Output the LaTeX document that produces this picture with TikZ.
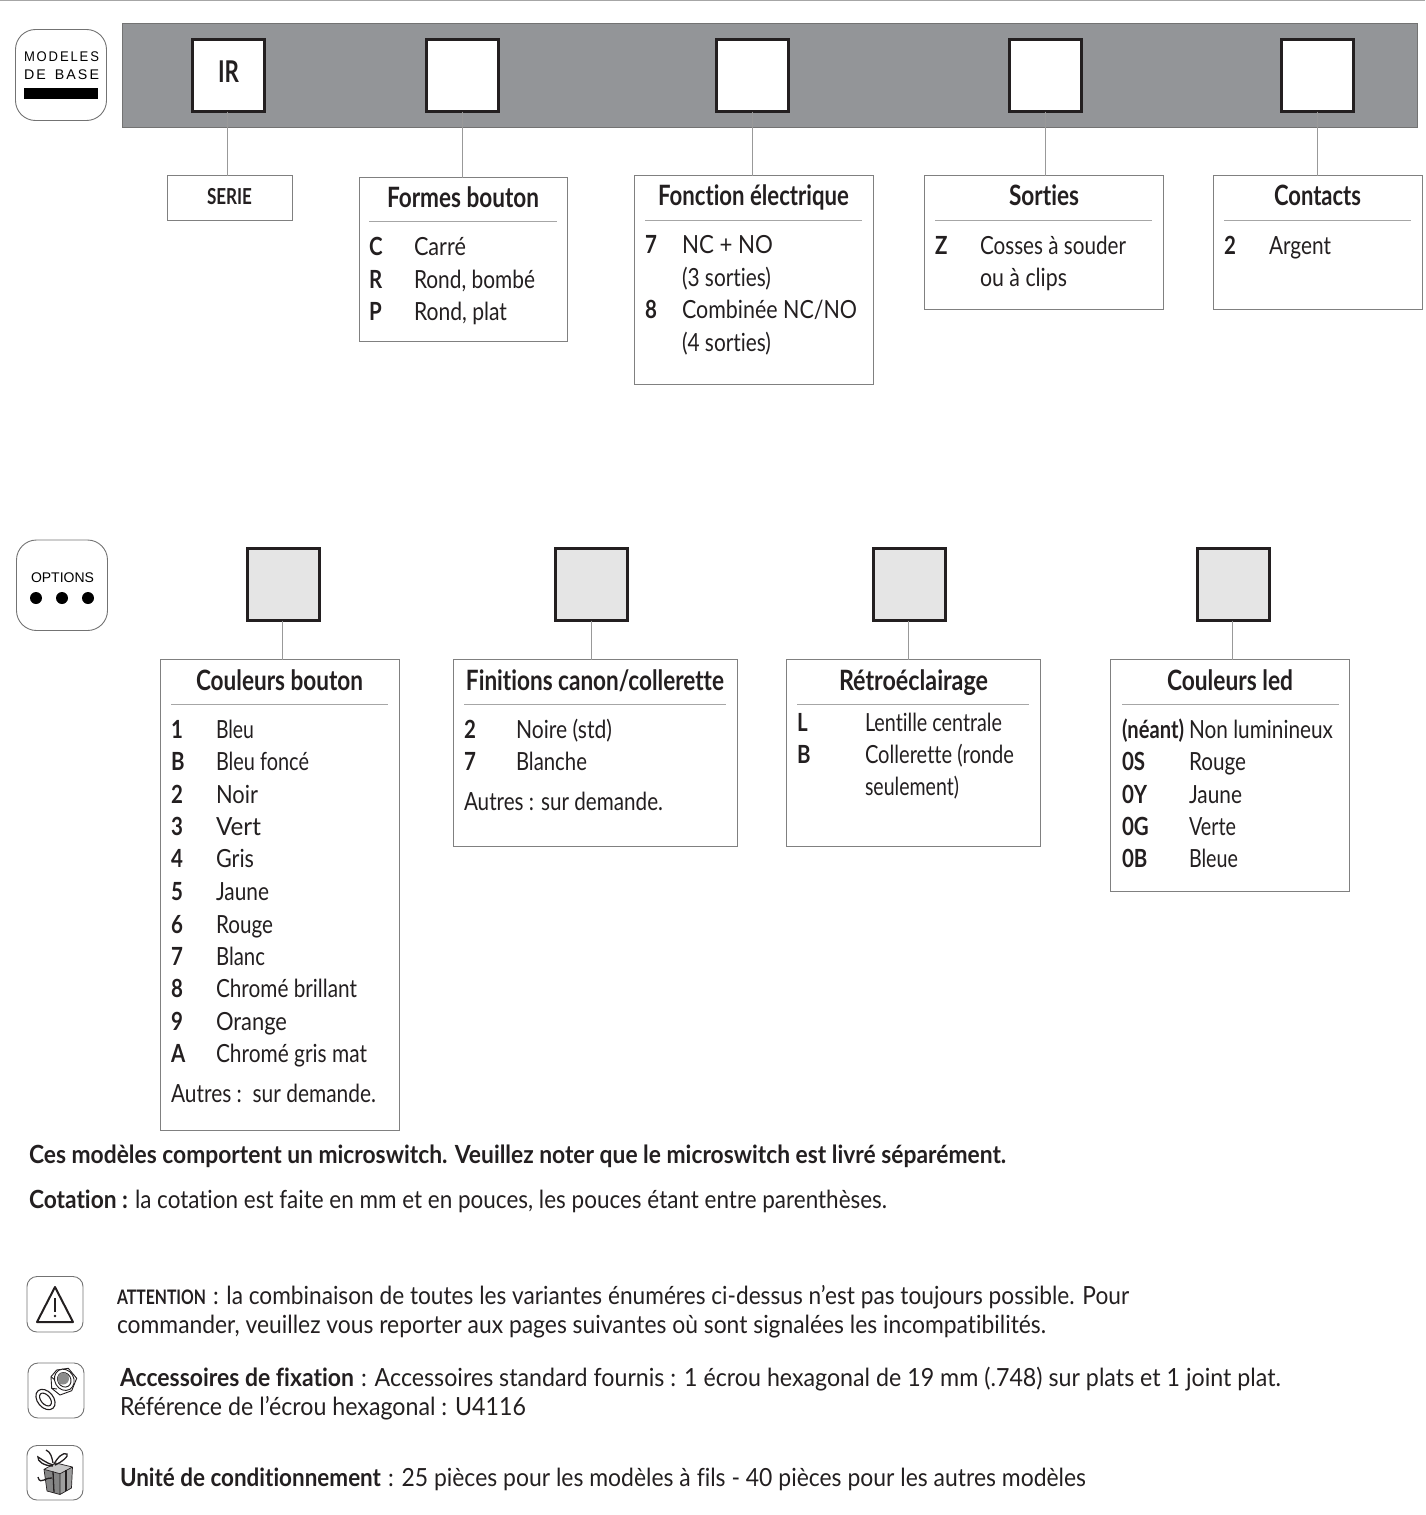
\documentclass[tikz,border=0pt]{standalone}
\usepackage{fontspec}
\setmainfont{Lato}[Ligatures=NoCommon]
\newfontfamily\helv{Liberation Sans}
\definecolor{band}{RGB}{147,149,152}
\definecolor{ink}{RGB}{35,31,32}
\newcounter{tc}
\tikzset{
 txt/.style={inner sep=0pt,outer sep=0pt,text=ink,font=\fontsize{25}{25}\selectfont,anchor=base west},
 ttl/.style={inner sep=0pt,outer sep=0pt,text=ink,font=\fontsize{28}{28}\selectfont\bfseries,anchor=base},
 optbox/.style={draw=black!50,line width=1pt,fill=white,inner sep=0pt,outer sep=0pt,anchor=north west},
 sq/.style={draw=ink,line width=2.6pt,inner sep=0pt,outer sep=0pt,minimum width=72pt,minimum height=72pt,anchor=north west},
 conn/.style={draw=black!40,line width=1pt},
 rul/.style={draw=black!35,line width=0.8pt},
 ico/.style={draw=black!55,line width=0.9pt,rounded corners=#1},
 lab/.style={inner sep=0pt,outer sep=0pt,text=black,font=\helv\fontsize{14}{14}\selectfont,anchor=base west},
 pic/.style={draw=ink,line width=.9pt},
}
\newcommand{\TF}[4]{\stepcounter{tc}\node[txt] (t\thetc) at (#1,#2) {\resizebox{#3pt}{\height}{#4}};}
\newcommand{\TC}[4]{\stepcounter{tc}\node[ttl] (t\thetc) at (#1,#2) {\resizebox{#3pt}{\height}{#4}};}
\newcommand{\KY}[3]{\stepcounter{tc}\node[txt] (t\thetc) at (#1,#2) {\scalebox{.82}[1]{\textbf{#3}}};}
\begin{document}
\begin{tikzpicture}[x=1pt,y=-1pt]
\useasboundingbox (0,0) rectangle (1425,1515);
\draw[draw=black!35,line width=1.2pt] (0,0.5)--(1425,0.5);
% band
\fill[fill=band,draw=black!55,line width=.8pt] (122.5,23.5) rectangle (1417,127);
% base boxes
\node[optbox,minimum width=125pt,minimum height=45pt] (b1) at (167.5,175.5) {};
\node[optbox,minimum width=208pt,minimum height=164pt] (b2) at (359,177.5) {};
\node[optbox,minimum width=238.5pt,minimum height=209pt] (b3) at (634.5,175.5) {};
\node[optbox,minimum width=239pt,minimum height=134pt] (b4) at (924.5,175.5) {};
\node[optbox,minimum width=209pt,minimum height=134pt] (b5) at (1213.5,175.5) {};
% base squares
\node[sq,fill=white] (a1) at (192.5,39.5) {};
\node[sq,fill=white] (a2) at (426.5,39.5) {};
\node[sq,fill=white] (a3) at (716.5,39.5) {};
\node[sq,fill=white] (a4) at (1009.5,39.5) {};
\node[sq,fill=white] (a5) at (1281.5,39.5) {};
\stepcounter{tc}\node[ttl,font=\fontsize{30}{30}\selectfont\bfseries] (t\thetc) at (228.5,82.5) {\resizebox{21pt}{\height}{IR}};
\draw[conn] ([xshift=-1pt]a1.south) -- ([xshift=-1pt]a1.south |- b1.north);
\draw[conn] (a2.south) -- (a2.south |- b2.north);
\draw[conn] (a3.south) -- (a3.south |- b3.north);
\draw[conn] (a4.south) -- (a4.south |- b4.north);
\draw[conn] (a5.south) -- (a5.south |- b5.north);
% base rules
\draw[rul] (369,221.5)--(557,221.5);
\draw[rul] (645,220.5)--(862,220.5);
\draw[rul] (935,220.5)--(1152,220.5);
\draw[rul] (1224,220.5)--(1411,220.5);
% base text
\stepcounter{tc}\node[ttl,font=\fontsize{22}{22}\selectfont\bfseries] (t\thetc) at (229.5,204) {\resizebox{45pt}{\height}{SERIE}};
\TC{463}{207}{152}{Formes bouton}
\KY{369}{255}{C}\TF{414}{255}{52}{Carré}
\KY{369}{288}{R}\TF{414}{288}{121}{Rond, bombé}
\KY{369}{320}{P}\TF{414}{320}{93}{Rond, plat}
\TC{753.5}{205}{191}{Fonction électrique}
\KY{645}{253}{7}\TF{682}{253}{91}{NC + NO}
\TF{682}{286}{89}{(3 sorties)}
\KY{645}{318}{8}\TF{682}{318}{175}{Combinée NC/NO}
\TF{682}{351}{89}{(4 sorties)}
\TC{1044}{205}{70}{Sorties}
\KY{935}{254}{Z}\TF{980}{254}{146}{Cosses à souder}
\TF{980}{286}{87}{ou à clips}
\TC{1317.5}{205}{87}{Contacts}
\KY{1224}{254}{2}\TF{1269}{254}{62}{Argent}
% option boxes
\node[optbox,minimum width=238.5pt,minimum height=471pt] (c1) at (160.5,659.5) {};
\node[optbox,minimum width=283.5pt,minimum height=187pt] (c2) at (453.5,659.5) {};
\node[optbox,minimum width=253.5pt,minimum height=187pt] (c3) at (786.5,659.5) {};
\node[optbox,minimum width=238.5pt,minimum height=231.5pt] (c4) at (1110.8,659.5) {};
\node[sq,fill=black!10] (d1) at (247.5,548.5) {};
\node[sq,fill=black!10] (d2) at (555.5,548.5) {};
\node[sq,fill=black!10] (d3) at (873.5,548.5) {};
\node[sq,fill=black!10] (d4) at (1197.5,548.5) {};
\draw[conn] ([xshift=-1pt]d1.south) -- ([xshift=-1pt]d1.south |- c1.north);
\draw[conn] (d2.south) -- (d2.south |- c2.north);
\draw[conn] ([xshift=-1pt]d3.south) -- ([xshift=-1pt]d3.south |- c3.north);
\draw[conn] ([xshift=-1pt]d4.south) -- ([xshift=-1pt]d4.south |- c4.north);
\draw[rul] (171,704.5)--(388,704.5);
\draw[rul] (464,704.5)--(726,704.5);
\draw[rul] (797,704.5)--(1029,704.5);
\draw[rul] (1122,704.5)--(1339,704.5);
% option text
\TC{279.5}{690}{167}{Couleurs bouton}
\KY{171}{738}{1}\TF{216}{738}{38}{Bleu}
\KY{171}{770}{B}\TF{216}{770}{93}{Bleu foncé}
\KY{171}{803}{2}\TF{216}{803}{42}{Noir}
\KY{171}{835}{3}\TF{216}{835}{45}{Vert}
\KY{171}{867}{4}\TF{216}{867}{38}{Gris}
\KY{171}{900}{5}\TF{216}{900}{53}{Jaune}
\KY{171}{933}{6}\TF{216}{933}{57}{Rouge}
\KY{171}{965}{7}\TF{216}{965}{49}{Blanc}
\KY{171}{997}{8}\TF{216}{997}{141}{Chromé brillant}
\KY{171}{1030}{9}\TF{216}{1030}{71}{Orange}
\KY{171}{1062}{A}\TF{216}{1062}{151}{Chromé gris mat}
\TF{171}{1102}{205}{Autres :\ \ sur demande.}
\TC{595}{690}{258}{Finitions canon/collerette}
\KY{464}{738}{2}\TF{516}{738}{96}{Noire (std)}
\KY{464}{770}{7}\TF{516}{770}{71}{Blanche}
\TF{464}{810}{199}{Autres : sur demande.}
\TC{913.5}{690}{149}{Rétroéclairage}
\KY{797}{731}{L}\TF{865}{731}{137}{Lentille centrale}
\KY{797}{763}{B}\TF{865}{763}{149}{Collerette (ronde}
\TF{865}{795}{94}{seulement)}
\TC{1230}{690}{126}{Couleurs led}
\TF{1122}{738}{62}{\textbf{(néant)}}\TF{1189}{738}{144}{Non luminineux}
\KY{1122}{770}{0S}\TF{1189}{770}{57}{Rouge}
\KY{1122}{803}{0Y}\TF{1189}{803}{53}{Jaune}
\KY{1122}{835}{0G}\TF{1189}{835}{47}{Verte}
\KY{1122}{867}{0B}\TF{1189}{867}{49}{Bleue}
% bottom text
\TF{29}{1163}{977}{\textbf{Ces modèles comportent un microswitch. Veuillez noter que le microswitch est livré séparément.}}
\TF{29}{1208}{99}{\textbf{Cotation :}}
\TF{135}{1208}{752}{la cotation est faite en mm et en pouces, les pouces étant entre parenthèses.}
\stepcounter{tc}\node[txt,font=\fontsize{20}{20}\selectfont] (t\thetc) at (117,1304) {\resizebox{89pt}{\height}{\textbf{ATTENTION}}};
\TF{213}{1304}{916}{: la combinaison de toutes les variantes énuméres ci-dessus n’est pas toujours possible. Pour}
\TF{117}{1333}{929}{commander, veuillez vous reporter aux pages suivantes où sont signalées les incompatibilités.}
\TF{120}{1386}{234}{\textbf{Accessoires de fixation}}
\TF{361}{1386}{920}{: Accessoires standard fournis : 1 écrou hexagonal de 19 mm (.748) sur plats et 1 joint plat.}
\TF{120}{1415}{406}{Référence de l’écrou hexagonal : U4116}
\TF{120}{1486}{261}{\textbf{Unité de conditionnement}}
\TF{388}{1486}{698}{: 25 pièces pour les modèles à fils - 40 pièces pour les autres modèles}
% badge MODELES
\draw[ico=20pt] (15.5,29.5) rectangle (106.5,120.5);
\stepcounter{tc}\node[lab] (t\thetc) at (24,61) {\resizebox{75pt}{\height}{M\kern2pt O\kern2pt D\kern2pt E\kern2pt L\kern2pt E\kern2pt S}};
\stepcounter{tc}\node[lab] (t\thetc) at (24,79) {\resizebox{75pt}{\height}{D\kern2pt E\kern9pt B\kern2pt A\kern2pt S\kern2pt E}};
\fill[black] (24,88) rectangle (98,99);
% badge OPTIONS
\draw[ico=20pt] (16.5,540) rectangle (107.5,630.5);
\stepcounter{tc}\node[lab] (t\thetc) at (31,582) {\resizebox{63pt}{\height}{OPTIONS}};
\fill[black] (36,598) circle (6) (62,598) circle (6) (88,598) circle (6);
% warning icon
\draw[ico=10pt] (27,1276.5) rectangle (83,1332);
\draw[draw=ink,line width=2pt,line join=round] (55,1287)--(73,1322)--(37,1322)--cycle;
\draw[draw=ink,line width=2pt] (55,1298)--(55,1312);
\fill[ink] (55,1316) circle (1.4);
% nut icon
\draw[ico=10pt] (28,1363) rectangle (84,1418);
\draw[pic,fill=white] (51,1376.7)--(56.7,1370)--(68.3,1368.3)--(76.7,1378.3)--(71.7,1390.7)--(60,1395)--(51.7,1388.3)--cycle;
\draw[pic] (51,1376.7)--(55,1380) (51.7,1388.3)--(57,1389);
\draw[pic,fill=white,rotate around={30:(64.3,1379.8)}] (64.3,1379.8) ellipse (9.5 and 11);
\draw[pic,fill=white,rotate around={30:(64.3,1379.8)}] (64.3,1379.8) ellipse (6.5 and 7.5);
\begin{scope}
\clip[rotate around={30:(64.3,1379.8)}] (64.3,1379.8) ellipse (6.5 and 7.5);
\fill[black!45] (63,1378.5) circle (6);
\end{scope}
\draw[pic,line width=1.1pt,rotate around={40:(45.5,1399.5)}] (45.5,1399.5) ellipse (8 and 11.5);
\draw[pic,line width=1.1pt,rotate around={40:(45.5,1399.5)}] (45.5,1399.5) ellipse (4.5 and 7.5);
% gift icon
\draw[ico=10pt] (27,1445.5) rectangle (83,1500);
\fill[black!48] (44,1469.3)--(60,1473.7)--(60,1494.5)--(47,1491)--cycle;
\fill[black!38] (60,1473.7)--(72.5,1467)--(71.5,1488)--(60,1494.5)--cycle;
\fill[black!22] (44,1469.3)--(60,1473.7)--(72.5,1467)--(56,1463)--cycle;
\draw[pic,line width=.7pt,line join=round] (44,1469.3)--(60,1473.7)--(72.5,1467)--(56,1463)--cycle (60,1473.7)--(60,1494.5) (44,1469.3)--(47,1491)--(60,1494.5)--(71.5,1488)--(72.5,1467);
\draw[pic,line width=1.3pt] (53,1471.5)--(54,1492.5);
\draw[pic,line width=1.3pt] (66,1470)--(66,1491);
\draw[pic,line width=1.3pt] (53,1465) .. controls (46,1463) and (40,1458) .. (38,1457) .. controls (37,1461) and (44,1466) .. (53,1466);
\draw[pic,line width=1.3pt] (54,1464) .. controls (58,1457) and (63,1452) .. (67,1454) .. controls (69,1456) and (62,1462) .. (55,1465);
\draw[pic,line width=1.3pt] (53,1463) .. controls (52,1458) and (51,1452) .. (46,1450);
\draw[pic,line width=1.3pt] (38,1477) .. controls (39,1482) and (42,1481) .. (44,1480) .. controls (48,1478) and (50,1478) .. (52,1478);
\end{tikzpicture}
\end{document}
